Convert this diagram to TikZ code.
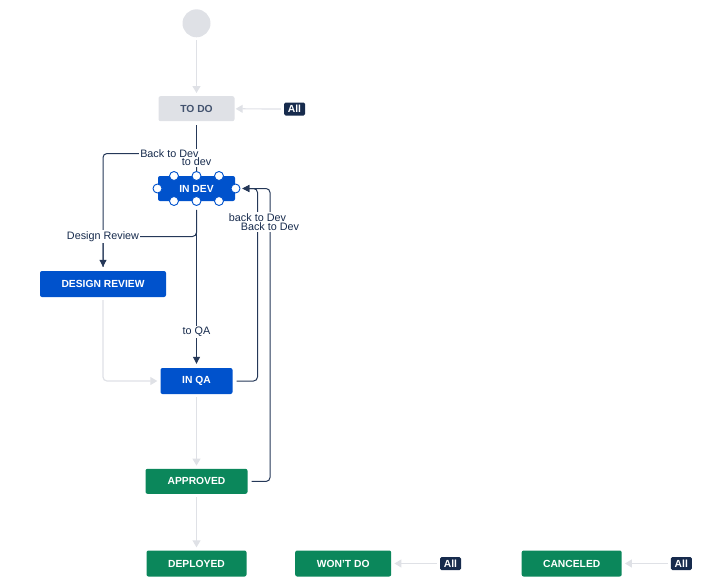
\documentclass[tikz,border=0pt]{standalone}
\usepackage{fontspec}
\setmainfont{Liberation Sans}
\usetikzlibrary{arrows.meta,positioning}

\definecolor{jblue}{HTML}{0052CC}
\definecolor{jgreen}{HTML}{0B875B}
\definecolor{jnavy}{HTML}{172B4D}
\definecolor{jgray}{HTML}{DFE1E6}
\definecolor{jtext}{HTML}{42526E}
\definecolor{jline}{HTML}{253858}

\begin{document}
\begin{tikzpicture}[x=1pt,y=-1pt,
    status/.style={rectangle,rounded corners=2pt,minimum height=25pt,inner sep=0pt,
        font=\fontsize{10.3}{12}\selectfont\bfseries,text=white},
    todostat/.style={status,fill=jgray,text=jtext},
    devstat/.style={status,fill=jblue},
    donestat/.style={status,fill=jgreen},
    allbadge/.style={rectangle,rounded corners=1.5pt,fill=jnavy,text=white,
        font=\fontsize{10.3}{12}\selectfont\bfseries,minimum width=21pt,minimum height=13pt,inner sep=0pt},
    lbl/.style={fill=white,inner sep=1pt,text=jnavy,font=\fontsize{10.8}{12}\selectfont},
    handle/.style={circle,draw=jblue,fill=white,line width=0.9pt,minimum size=9pt,inner sep=0pt},
    trans/.style={draw=jline,line width=1pt,rounded corners=4pt,shorten <=4pt,
        -{Triangle[width=7pt,length=7pt]}},
    gtrans/.style={draw=jgray,line width=1.2pt,rounded corners=4pt,shorten <=3pt,shorten >=3pt,
        -{Triangle[width=8pt,length=7pt]}}
]
    \useasboundingbox (0,0) rectangle (701,586);

    % start
    \node[circle,fill=jgray,minimum size=28pt,inner sep=0pt] (start) at (196.5,23.3) {};

    % statuses
    \node[todostat,minimum width=76pt] (todo) at (196.5,108.7) {TO DO};
    \node[devstat,minimum width=77pt] (indev) at (196.5,188.5) {IN DEV};
    \node[devstat,minimum width=126pt,minimum height=26pt] (dreview) at (103,284) {DESIGN REVIEW};
    \node[devstat,minimum width=72pt,minimum height=26pt] (inqa) at (196.5,381) {IN QA};
    \node[donestat,minimum width=102pt] (approved) at (196.5,481.3) {APPROVED};
    \node[donestat,minimum width=100pt,minimum height=26pt] (deployed) at (196.5,563.5) {DEPLOYED};
    \node[donestat,minimum width=96pt,minimum height=26pt] (wontdo) at (343.2,563.5) {WON'T DO};
    \node[donestat,minimum width=100pt,minimum height=26pt] (canceled) at (571.7,563.5) {CANCELED};

    % global transitions
    \node[allbadge] (alltodo) at (294.5,109) {All};
    \node[allbadge] (allwont) at (450.5,563.5) {All};
    \node[allbadge] (allcan) at (681.3,563.5) {All};

    % handles round IN DEV
    \foreach \hx [count=\i] in {174,196.5,219} {
        \node[handle] (ht\i) at (\hx,176) {};
        \node[handle] (hb\i) at (\hx,201) {};
    }
    \node[handle] (hw) at (157.5,188.5) {};
    \node[handle] (he) at (235.5,188.5) {};

    % light transitions
    \draw[gtrans] (start) -- (todo);
    \draw[gtrans,shorten >=1pt] (alltodo) -- (todo);
    \draw[gtrans] (dreview.south) -- (103,381) -- (inqa.west);
    \draw[gtrans] (inqa) -- (approved);
    \draw[gtrans] (approved) -- (deployed);
    \draw[gtrans] (allwont) -- (wontdo);
    \draw[gtrans] (allcan) -- (canceled);

    % dark transitions
    \draw[trans,-] (todo.south) -- coordinate[pos=0.82] (todevlbl) (ht2.north);
    \draw[trans,-] (dreview.north) -- (103,153.5)
        -- coordinate[pos=0.71] (backdrlbl) (196.5,153.5) -- (ht2.north);
    \draw[trans,shorten >=4pt] (hb2.south) -- (196.5,236.5)
        -- coordinate (designlbl) (103,236.5) -- (dreview.north);
    \draw[trans,shorten >=4pt] (hb2.south) -- coordinate[pos=0.78] (toqalbl) (inqa.north);
    \draw[trans,shorten >=2pt] (inqa.east) -- (257.5,381)
        -- coordinate[pos=0.85] (backqalbl) (257.5,188.5) -- (he.east);
    \draw[trans,shorten >=2pt] (approved.east) -- (270,481.5)
        -- coordinate[pos=0.87] (backaplbl) (270,188.5) -- (he.east);

    % labels
    \node[lbl] (lbackdr) at (backdrlbl) {Back to Dev};
    \node[lbl] (ltodev) at (todevlbl) {to dev};
    \node[lbl] (ldesign) at (103,236.5) {Design Review};
    \node[lbl] (ltoqa) at (toqalbl) {to QA};
    \node[lbl] (lbackqa) at (backqalbl) {back to Dev};
    \node[lbl] (lbackap) at (backaplbl) {Back to Dev};
\end{tikzpicture}
\end{document}
